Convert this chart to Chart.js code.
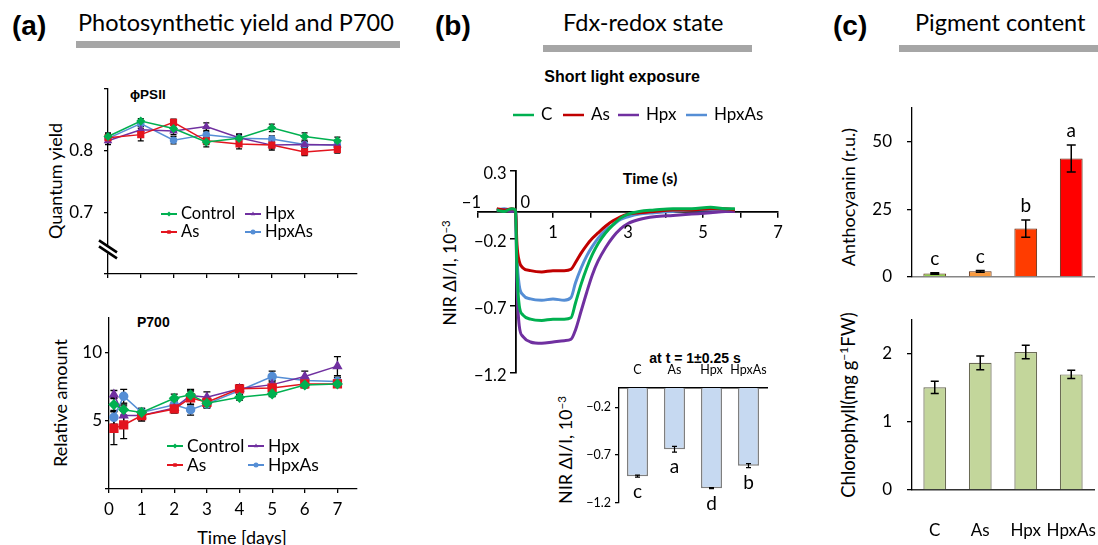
<!DOCTYPE html>
<html>
<head>
<meta charset="utf-8">
<title>Photosynthetic yield, Fdx-redox state and pigments</title>
<script src="https://cdn.jsdelivr.net/npm/chart.js@4/dist/chart.umd.min.js"></script>
<style>
  body { margin: 0; width: 1098px; height: 545px; position: relative; overflow: hidden; background: #fff; font-family: Lato, sans-serif; color: #000; }
  .t { position: absolute; white-space: nowrap; line-height: 1; }
  .cy { transform: translateY(-50%); }
  .cc { transform: translate(-50%, -50%); }
  .rot { transform: translate(-50%, -50%) rotate(-90deg); }
  .ar { font-family: 'Liberation Sans', Arial, sans-serif; font-weight: bold; }
  .bar { position: absolute; background: #a6a6a6; }
  .box { position: absolute; }
  sup { font-size: 0.65em; line-height: 0; vertical-align: 0.55em; }
</style>
</head>
<body>
<div class="t ar" style="left:12px;top:12px;font-size:28px">(a)</div>
<div class="t" style="left:78px;top:11px;font-size:23.5px">Photosynthetic yield and P700</div>
<div class="bar" style="left:76px;top:41px;width:324px;height:7px"></div>
<div class="t ar" style="left:435px;top:12px;font-size:28px">(b)</div>
<div class="t" style="left:563px;top:11px;font-size:23.5px">Fdx-redox state</div>
<div class="bar" style="left:543px;top:45px;width:209px;height:7px"></div>
<div class="t ar" style="left:833px;top:12px;font-size:28px">(c)</div>
<div class="t" style="left:915px;top:11px;font-size:23.5px">Pigment content</div>
<div class="bar" style="left:899px;top:45px;width:199px;height:7px"></div>

<div class="t ar cy" style="left:130px;top:95px;font-size:13.5px">ϕPSII</div>
<div class="t ar cy" style="left:137px;top:322px;font-size:14px">P700</div>
<div class="t rot" style="left:55px;top:181px;font-size:18px">Quantum yield</div>
<div class="t rot" style="left:60px;top:403px;font-size:18px">Relative amount</div>
<div class="t cc" style="left:242px;top:537px;font-size:18px">Time [days]</div>

<div class="t ar cc" style="left:622px;top:77px;font-size:16px">Short light exposure</div>
<div class="t cc" style="left:650px;top:178px;font-size:16px;font-weight:bold">Time (s)</div>
<div class="t rot" style="left:450px;top:273px;font-size:17.5px">NIR ΔI/I, 10<sup>−3</sup></div>
<div class="t ar cc" style="left:695px;top:358px;font-size:14px">at t = 1±0.25 s</div>
<div class="t rot" style="left:565px;top:450px;font-size:18px">NIR ΔI/I, 10<sup>−3</sup></div>

<div class="t rot" style="left:848px;top:197px;font-size:18px">Anthocyanin (r.u.)</div>
<div class="t rot" style="left:848px;top:405px;font-size:18.5px">Chlorophyll(mg g<sup>−1</sup>FW)</div>

<script>
// ---------- data ----------
var groups = ['Control', 'As', 'Hpx', 'HpxAs'];
var groupsShort = ['C', 'As', 'Hpx', 'HpxAs'];

// (a) top: quantum yield (phi PSII) per day
var yieldDays = [0, 1, 2, 3, 4, 5, 6, 7];
var yieldControl = [0.823, 0.848, 0.836, 0.814, 0.820, 0.837, 0.823, 0.816];
var yieldAs = [0.821, 0.826, 0.846, 0.816, 0.811, 0.809, 0.798, 0.802];
var yieldHpx = [0.816, 0.834, 0.832, 0.839, 0.821, 0.809, 0.810, 0.809];
var yieldHpxAs = [0.820, 0.844, 0.817, 0.826, 0.820, 0.819, 0.810, 0.809];
var yieldErrControl = [0.006, 0.004, 0.005, 0.008, 0.006, 0.006, 0.006, 0.006];
var yieldErrAs = [0.006, 0.010, 0.005, 0.006, 0.008, 0.006, 0.006, 0.006];
var yieldErrHpx = [0.006, 0.006, 0.006, 0.006, 0.006, 0.008, 0.005, 0.005];
var yieldErrHpxAs = [0.005, 0.005, 0.006, 0.005, 0.005, 0.005, 0.005, 0.005];
var yieldTicks = [0.6, 0.7, 0.8, 0.9];
var yieldTickLabels = ['', '0.7', '0.8', ''];

// (a) bottom: P700 relative amount
var p700Days = [0.15, 0.45, 1, 2, 2.5, 3, 4, 5, 6, 7];
var p700Control = [6.17, 5.80, 5.60, 6.63, 6.88, 6.27, 6.70, 6.95, 7.60, 7.68];
var p700As = [4.44, 4.68, 5.37, 5.85, 6.66, 6.34, 7.32, 7.39, 7.68, 7.68];
var p700Hpx = [6.90, 5.37, 5.37, 5.93, 6.83, 6.70, 7.32, 7.63, 8.22, 8.98];
var p700HpxAs = [5.24, 6.78, 5.60, 6.15, 5.80, 6.22, 7.20, 8.22, 7.93, 7.85];
var p700ErrControl = [0.5, 0.4, 0.3, 0.3, 0.4, 0.3, 0.2, 0.2, 0.2, 0.2];
var p700ErrAs = [1.2, 1.0, 0.4, 0.3, 0.5, 0.3, 0.3, 0.2, 0.2, 0.2];
var p700ErrHpx = [0.3, 0.7, 0.3, 0.3, 0.4, 0.4, 0.3, 0.3, 0.4, 0.7];
var p700ErrHpxAs = [0.5, 0.5, 0.3, 0.3, 0.4, 0.3, 0.3, 0.4, 0.2, 0.3];
var p700Ticks = [0, 5, 10];
var p700TickLabels = ['', '5', '10'];
var dayTicks = [0, 1, 2, 3, 4, 5, 6, 7];

// (b) NIR traces during short light exposure
var traceTime = [-0.5, -0.3, -0.1, 0, 0.04, 0.1, 0.2, 0.4, 0.7, 1.0, 1.3, 1.48, 1.6, 1.75, 1.9, 2.05, 2.2, 2.4, 2.6, 2.8, 3.0, 3.3, 3.7, 4.2, 4.7, 5.2, 5.6, 5.85];
var traceC = [0.01, 0.00, 0.02, 0.01, -0.45, -0.70, -0.77, -0.80, -0.81, -0.80, -0.80, -0.79, -0.68, -0.54, -0.42, -0.32, -0.24, -0.16, -0.10, -0.05, -0.02, 0.00, 0.01, 0.02, 0.02, 0.03, 0.02, 0.02];
var traceAs = [0.02, 0.01, 0.02, 0.01, -0.25, -0.37, -0.42, -0.44, -0.45, -0.44, -0.44, -0.43, -0.38, -0.31, -0.25, -0.20, -0.16, -0.11, -0.07, -0.04, -0.02, -0.01, 0.00, 0.01, 0.01, 0.02, 0.02, 0.01];
var traceHpx = [0.01, 0.01, 0.00, 0.01, -0.55, -0.85, -0.93, -0.97, -0.98, -0.97, -0.96, -0.95, -0.88, -0.74, -0.60, -0.47, -0.37, -0.27, -0.19, -0.13, -0.09, -0.06, -0.04, -0.03, -0.02, -0.01, 0.00, 0.00];
var traceHpxAs = [0.01, 0.02, 0.01, 0.01, -0.35, -0.55, -0.62, -0.65, -0.66, -0.65, -0.66, -0.64, -0.53, -0.42, -0.33, -0.26, -0.20, -0.14, -0.10, -0.06, -0.04, -0.02, -0.01, 0.00, 0.01, 0.01, 0.01, 0.01];
var traceTicksX = [-1, 0, 1, 2, 3, 4, 5, 6, 7];
var traceTickXLabels = ['−1', '0', '1', '', '3', '', '5', '', '7'];
var traceTicksY = [-1.2, -0.7, -0.2, 0.3];
var traceTickYLabels = ['−1.2', '−0.7', '−0.2', '0.3'];

// (b) inset: mean signal at t = 1 s
var insetValues = [-0.92, -0.64, -1.045, -0.81];
var insetErr = [0.01, 0.03, 0.005, 0.02];
var insetLetters = ['c', 'a', 'd', 'b'];
var insetTicks = [-1.2, -0.7, -0.2];
var insetTickLabels = ['−1.2', '−0.7', '−0.2'];

// (c) pigments
var anthoValues = [1.3, 2.1, 17.9, 43.8];
var anthoErr = [0.3, 0.3, 3.2, 5.0];
var anthoLetters = ['c', 'c', 'b', 'a'];
var anthoTicks = [0, 25, 50];
var chloroValues = [1.51, 1.87, 2.03, 1.70];
var chloroErr = [0.09, 0.10, 0.10, 0.06];
var chloroTicks = [0, 1, 2];

// colours
var green = '#00b050', red = '#e3141e', darkRed = '#c00000', purple = '#7030a0', blue = '#558ed5';
var anthoColors = ['#92d050', '#f99a3e', '#ff3c00', '#ff0000'];

Chart.defaults.font.family = 'Lato';
Chart.defaults.font.size = 16;
Chart.defaults.color = '#000';
Chart.defaults.animation = false;
Chart.defaults.plugins.legend.display = false;
Chart.defaults.plugins.tooltip.enabled = false;

// ---------- small plugins ----------
// vertical error bars, values in dataset.errors
function drawErrors(chart, o) {
    var ctx = chart.ctx, ys = chart.scales.y;
    ctx.save();
    ctx.strokeStyle = o.color || '#000';
    ctx.lineWidth = o.width || 1.3;
    chart.data.datasets.forEach(function (ds, i) {
        if (!ds.errors) return;
        chart.getDatasetMeta(i).data.forEach(function (el, j) {
            var d = ds.data[j];
            var v = typeof d === 'object' ? d.y : d;
            var top = ys.getPixelForValue(v + ds.errors[j]);
            var bot = ys.getPixelForValue(v - ds.errors[j]);
            ctx.beginPath();
            ctx.moveTo(el.x, top); ctx.lineTo(el.x, bot);
            ctx.moveTo(el.x - o.cap, top); ctx.lineTo(el.x + o.cap, top);
            ctx.moveTo(el.x - o.cap, bot); ctx.lineTo(el.x + o.cap, bot);
            ctx.stroke();
        });
    });
    ctx.restore();
}

var errorBars = {
    id: 'errorBars',
    beforeDatasetsDraw: function (chart, args, o) { if (!o.onTop) drawErrors(chart, o); },
    afterDatasetsDraw: function (chart, args, o) { if (o.onTop) drawErrors(chart, o); }
};

// significance letters next to the bars
var letters = {
    id: 'letters',
    afterDatasetsDraw: function (chart, args, o) {
        var ctx = chart.ctx, ys = chart.scales.y, ds = chart.data.datasets[0];
        ctx.save();
        ctx.font = o.font;
        ctx.fillStyle = '#000';
        ctx.textAlign = 'center';
        ctx.textBaseline = 'middle';
        chart.getDatasetMeta(0).data.forEach(function (el, j) {
            var y = ys.getPixelForValue(ds.data[j] + o.dir * ds.errors[j]) + o.dy;
            ctx.fillText(o.labels[j], el.x, y);
        });
        ctx.restore();
    }
};

// legend drawn at given offsets from the chart area
var placedLegend = {
    id: 'placedLegend',
    afterDraw: function (chart, args, o) {
        var ctx = chart.ctx, a = chart.chartArea;
        o.items.forEach(function (it) {
            var ds = chart.data.datasets[it.i];
            var x = a.left + it.x, y = a.top + it.y;
            ctx.save();
            ctx.strokeStyle = ds.borderColor;
            ctx.lineWidth = o.lineWidth;
            ctx.beginPath(); ctx.moveTo(x, y); ctx.lineTo(x + o.len, y); ctx.stroke();
            if (o.radius) {
                ctx.fillStyle = ds.borderColor;
                Chart.helpers.drawPoint(ctx, { pointStyle: ds.pointStyle, rotation: 0, radius: o.radius, borderWidth: 0 }, x + o.len / 2, y);
            }
            ctx.fillStyle = '#000';
            ctx.font = o.font;
            ctx.textAlign = 'left';
            ctx.textBaseline = 'middle';
            ctx.fillText(ds.label, x + o.len + o.gap, y);
            ctx.restore();
        });
    }
};

// "//" mark for the broken y axis
var axisBreak = {
    id: 'axisBreak',
    afterDraw: function (chart, args, o) {
        var ctx = chart.ctx, x = chart.chartArea.left, y = chart.scales.y.getPixelForValue(o.at);
        ctx.save();
        ctx.strokeStyle = '#fff'; ctx.lineWidth = 4;
        ctx.beginPath(); ctx.moveTo(x, y - 4); ctx.lineTo(x, y + 4); ctx.stroke();
        ctx.strokeStyle = '#000'; ctx.lineWidth = 2.6;
        ctx.beginPath();
        ctx.moveTo(x - 9, y - 9); ctx.lineTo(x + 9, y + 3);
        ctx.moveTo(x - 9, y - 3); ctx.lineTo(x + 9, y + 9);
        ctx.stroke();
        ctx.restore();
    }
};

// tick labels for the crossing axes of panel (b)
var crossLabels = {
    id: 'crossLabels',
    afterDraw: function (chart, args, o) {
        var ctx = chart.ctx, xs = chart.scales.x, ys = chart.scales.y;
        var x0 = xs.getPixelForValue(0), y0 = ys.getPixelForValue(0);
        ctx.save();
        ctx.font = o.font;
        ctx.fillStyle = '#000';
        ctx.textBaseline = 'middle';
        ctx.textAlign = 'right';
        traceTicksY.forEach(function (v, i) {
            ctx.fillText(traceTickYLabels[i], x0 - 9, ys.getPixelForValue(v) + 3);
        });
        traceTicksX.forEach(function (v, i) {
            var s = traceTickXLabels[i];
            if (!s) return;
            if (v < 0) {
                ctx.textAlign = 'right';
                ctx.fillText(s, xs.getPixelForValue(v) + 3, y0 - 9);
            } else if (v === 0) {
                ctx.textAlign = 'left';
                ctx.fillText(s, x0 + 5, y0 - 9);
            } else {
                ctx.textAlign = 'center';
                ctx.fillText(s, xs.getPixelForValue(v), y0 + 21);
            }
        });
        ctx.restore();
    }
};

// ---------- helpers ----------
function points(xs, ys) {
    return xs.map(function (x, i) { return { x: x, y: ys[i] }; });
}

function fixedTicks(values) {
    return function (s) { s.ticks = values.map(function (v) { return { value: v }; }); };
}

// box = container [left, top, width, height], area = plot area [left, top, right, bottom]
function addChart(box, area, config, mode) {
    var div = document.createElement('div');
    div.className = 'box';
    div.style.cssText = 'left:' + box[0] + 'px;top:' + box[1] + 'px;width:' + box[2] + 'px;height:' + box[3] + 'px';
    var canvas = document.createElement('canvas');
    div.appendChild(canvas);
    document.body.appendChild(div);

    var o = config.options;
    o.responsive = true;
    o.maintainAspectRatio = false;
    o.devicePixelRatio = 1;
    var right = box[0] + box[2] - area[2];
    var bottom = box[1] + box[3] - area[3];
    if (mode === 'free') {
        o.layout = { padding: { left: area[0] - box[0], top: area[1] - box[1], right: right, bottom: bottom } };
    } else {
        o.scales.y.afterFit = function (s) { s.width = area[0] - box[0]; s.paddingTop = 0; s.paddingBottom = 0; };
        if (mode === 'top') {
            o.layout = { padding: { left: 0, top: 0, right: right, bottom: bottom } };
            o.scales.x.afterFit = function (s) { s.height = area[1] - box[1]; s.paddingLeft = 0; s.paddingRight = 0; };
        } else {
            o.layout = { padding: { left: 0, top: area[1] - box[1], right: right, bottom: 0 } };
            o.scales.x.afterFit = function (s) { s.height = bottom; s.paddingLeft = 0; s.paddingRight = 0; };
        }
    }
    return new Chart(canvas, config);
}

function lineSet(label, color, style, xs, ys, errs, radius) {
    return {
        label: label, data: points(xs, ys), errors: errs,
        borderColor: color, backgroundColor: color,
        pointStyle: style, pointRadius: radius, pointBackgroundColor: color, pointBorderColor: color,
        borderWidth: 1.5, tension: 0, clip: 10
    };
}

function blackAxis(tickLength) {
    return {
        grid: { display: true, drawOnChartArea: false, color: '#000', tickLength: tickLength, lineWidth: 1.3 },
        border: { display: true, color: '#000', width: 1.3 }
    };
}

// ---------- (a) quantum yield ----------
var yieldScaleX = blackAxis(4);
yieldScaleX.type = 'linear'; yieldScaleX.min = 0; yieldScaleX.max = 7.6;
yieldScaleX.afterBuildTicks = fixedTicks(dayTicks);
yieldScaleX.ticks = { autoSkip: false, callback: function () { return ''; } };
var yieldScaleY = blackAxis(4);
yieldScaleY.min = 0.6; yieldScaleY.max = 0.9;
yieldScaleY.afterBuildTicks = fixedTicks(yieldTicks);
yieldScaleY.ticks = { autoSkip: false, padding: 11, font: { size: 17 }, callback: function (v, i) { return yieldTickLabels[i]; } };

addChart([50, 78, 320, 210], [108, 89, 357, 274], {
    type: 'line',
    data: {
        datasets: [
            lineSet(groups[0], green, 'rectRot', yieldDays, yieldControl, yieldErrControl, 3.5),
            lineSet(groups[1], red, 'rect', yieldDays, yieldAs, yieldErrAs, 4),
            lineSet(groups[2], purple, 'triangle', yieldDays, yieldHpx, yieldErrHpx, 3.5),
            lineSet(groups[3], blue, 'circle', yieldDays, yieldHpxAs, yieldErrHpxAs, 3)
        ]
    },
    options: {
        scales: { x: yieldScaleX, y: yieldScaleY },
        plugins: {
            errorBars: { cap: 3 },
            axisBreak: { at: 0.64 },
            placedLegend: {
                font: '16.5px Lato', len: 16, gap: 4, lineWidth: 2, radius: 2.5,
                items: [{ i: 0, x: 53, y: 125 }, { i: 1, x: 53, y: 143 }, { i: 2, x: 137, y: 125 }, { i: 3, x: 137, y: 143 }]
            }
        }
    },
    plugins: [errorBars, axisBreak, placedLegend]
});

// ---------- (a) P700 ----------
var p700ScaleX = blackAxis(4);
p700ScaleX.type = 'linear'; p700ScaleX.min = 0; p700ScaleX.max = 7.6;
p700ScaleX.afterBuildTicks = fixedTicks(dayTicks);
p700ScaleX.ticks = { autoSkip: false, maxRotation: 0, padding: 6, font: { size: 17 } };
var p700ScaleY = blackAxis(4);
p700ScaleY.min = 0; p700ScaleY.max = 12.5;
p700ScaleY.afterBuildTicks = fixedTicks(p700Ticks);
p700ScaleY.ticks = { autoSkip: false, padding: 3, font: { size: 17 }, callback: function (v, i) { return p700TickLabels[i]; } };

addChart([50, 305, 320, 220], [109, 318, 357, 489], {
    type: 'line',
    data: {
        datasets: [
            lineSet(groups[0], green, 'rectRot', p700Days, p700Control, p700ErrControl, 4.5),
            lineSet(groups[1], red, 'rect', p700Days, p700As, p700ErrAs, 5.5),
            lineSet(groups[2], purple, 'triangle', p700Days, p700Hpx, p700ErrHpx, 4.5),
            lineSet(groups[3], blue, 'circle', p700Days, p700HpxAs, p700ErrHpxAs, 4)
        ]
    },
    options: {
        scales: { x: p700ScaleX, y: p700ScaleY },
        plugins: {
            errorBars: { cap: 3.5 },
            placedLegend: {
                font: '17.5px Lato', len: 16, gap: 4, lineWidth: 2, radius: 2.5,
                items: [{ i: 0, x: 58, y: 128 }, { i: 1, x: 58, y: 147 }, { i: 2, x: 139, y: 128 }, { i: 3, x: 139, y: 147 }]
            }
        }
    },
    plugins: [errorBars, placedLegend]
});

// ---------- (b) NIR traces ----------
function traceSet(label, color, ys) {
    return { label: label, data: points(traceTime, ys), borderColor: color, backgroundColor: color, borderWidth: 3, pointRadius: 0, cubicInterpolationMode: 'monotone', clip: false };
}

addChart([440, 100, 350, 290], [478, 171, 778, 373], {
    type: 'line',
    data: {
        datasets: [
            traceSet(groupsShort[0], green, traceC),
            traceSet(groupsShort[1], darkRed, traceAs),
            traceSet(groupsShort[2], purple, traceHpx),
            traceSet(groupsShort[3], blue, traceHpxAs)
        ]
    },
    options: {
        scales: {
            x: {
                type: 'linear', min: -1, max: 7, position: { y: 0 },
                afterBuildTicks: fixedTicks(traceTicksX),
                ticks: { display: false },
                grid: { display: true, drawOnChartArea: false, color: '#000', tickLength: 5, lineWidth: 1.5 },
                border: { display: true, color: '#000', width: 1.8 }
            },
            y: {
                min: -1.2, max: 0.3, position: { x: 0 },
                afterBuildTicks: fixedTicks(traceTicksY),
                ticks: { display: false },
                grid: { display: true, drawOnChartArea: false, color: '#000', tickLength: 5, lineWidth: 1.5 },
                border: { display: true, color: '#000', width: 1.8 }
            }
        },
        plugins: {
            crossLabels: { font: '16.5px Lato' },
            placedLegend: {
                font: '17px Lato', len: 21, gap: 7, lineWidth: 2.5, radius: 0,
                items: [{ i: 0, x: 35, y: -56 }, { i: 1, x: 85, y: -56 }, { i: 2, x: 140, y: -56 }, { i: 3, x: 208, y: -56 }]
            }
        }
    },
    plugins: [crossLabels, placedLegend]
}, 'free');

// ---------- (b) inset bars ----------
var insetX = { position: 'top', grid: { display: false }, border: { display: true, color: '#000', width: 1.5 }, ticks: { autoSkip: false, maxRotation: 0, minRotation: 0, padding: 3, font: { size: 12.5 } } };
var insetY = blackAxis(4);
insetY.min = -1.2; insetY.max = 0;
insetY.afterBuildTicks = fixedTicks(insetTicks);
insetY.ticks = { autoSkip: false, padding: 4, font: { size: 12.5 }, callback: function (v, i) { return insetTickLabels[i]; } };

addChart([575, 362, 200, 155], [619, 388, 767, 503], {
    type: 'bar',
    data: {
        labels: groupsShort,
        datasets: [{ data: insetValues, errors: insetErr, backgroundColor: '#c6d9f1', borderColor: '#7f7f7f', borderWidth: 1.5, categoryPercentage: 1, barPercentage: 0.57 }]
    },
    options: {
        scales: { x: insetX, y: insetY },
        plugins: {
            errorBars: { cap: 2.5, width: 1.2, onTop: true },
            letters: { labels: insetLetters, font: '19px Lato', dir: -1, dy: 15 }
        }
    },
    plugins: [errorBars, letters]
}, 'top');

// ---------- (c) anthocyanin ----------
var anthoY = blackAxis(5);
anthoY.min = 0; anthoY.max = 62.5;
anthoY.afterBuildTicks = fixedTicks(anthoTicks);
anthoY.ticks = { autoSkip: false, padding: 15, font: { size: 17 } };

addChart([860, 95, 238, 190], [912, 108, 1094, 277], {
    type: 'bar',
    data: {
        labels: groupsShort,
        datasets: [{ data: anthoValues, errors: anthoErr, backgroundColor: anthoColors, borderColor: '#5a2a10', borderWidth: 1, categoryPercentage: 1, barPercentage: 0.5 }]
    },
    options: {
        scales: {
            x: { grid: { display: false }, border: { display: true, color: '#868686', width: 1.5 }, ticks: { display: false } },
            y: anthoY
        },
        plugins: {
            errorBars: { cap: 4.5, width: 1.5, onTop: true },
            letters: { labels: anthoLetters, font: '19px Lato', dir: 1, dy: -14 }
        }
    },
    plugins: [errorBars, letters]
});

// ---------- (c) chlorophyll ----------
var chloroY = blackAxis(5);
chloroY.min = 0; chloroY.max = 2.5;
chloroY.afterBuildTicks = fixedTicks(chloroTicks);
chloroY.ticks = { autoSkip: false, padding: 15, font: { size: 17 } };

addChart([860, 305, 238, 235], [912, 320, 1094, 490], {
    type: 'bar',
    data: {
        labels: groupsShort,
        datasets: [{ data: chloroValues, errors: chloroErr, backgroundColor: '#c3d69b', borderColor: '#6b6b55', borderWidth: 1.2, categoryPercentage: 1, barPercentage: 0.5 }]
    },
    options: {
        scales: {
            x: { grid: { display: false }, border: { display: true, color: '#333', width: 1.5 }, ticks: { autoSkip: false, maxRotation: 0, minRotation: 0, padding: 22, font: { size: 17 } } },
            y: chloroY
        },
        plugins: {
            errorBars: { cap: 4, width: 1.5, onTop: true }
        }
    },
    plugins: [errorBars]
});
</script>
</body>
</html>
